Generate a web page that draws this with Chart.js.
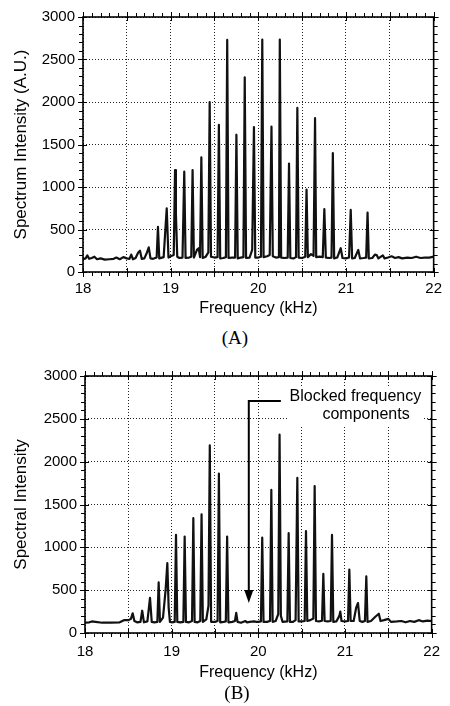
<!DOCTYPE html>
<html>
<head>
<meta charset="utf-8">
<script src="https://cdn.jsdelivr.net/npm/chart.js@4.4.0/dist/chart.umd.min.js"></script>
<style>
  body { margin: 0; background: #fff; width: 450px; height: 706px; position: relative; overflow: hidden; }
  .box { position: absolute; left: 0; width: 450px; }
  .cap { position: absolute; width: 450px; text-align: center; font-family: "Liberation Serif", "Times New Roman", serif; font-size: 19px; color: #000; line-height: 22px; }
</style>
</head>
<body>
<div class="box" style="top:0;height:320px"><canvas id="chartA" width="450" height="320"></canvas></div>
<div class="cap" style="top:327px;left:10px">(A)</div>
<div class="box" style="top:340px;height:343px"><canvas id="chartB" width="450" height="343"></canvas></div>
<div class="cap" style="top:682px;left:12px">(B)</div>
<script>
// spectrum (A): [frequency kHz, intensity A.U.]
const spectrumA = [
    [18.00, 150], [18.03, 160], [18.05, 195], [18.07, 155], [18.10, 165], [18.13, 180], [18.16, 150],
    [18.20, 160], [18.25, 145], [18.30, 150], [18.35, 155], [18.38, 170], [18.42, 150], [18.46, 175],
    [18.50, 160], [18.53, 155], [18.55, 205], [18.57, 150], [18.60, 165], [18.63, 230], [18.65, 250],
    [18.67, 155], [18.70, 160], [18.73, 230], [18.75, 290], [18.77, 160], [18.80, 155], [18.84, 170],
    [18.855, 530], [18.87, 160], [18.92, 175], [18.955, 750], [18.975, 170], [19.00, 185], [19.035, 200],
    [19.05, 1200], [19.06, 680], [19.075, 180], [19.10, 165], [19.135, 170], [19.155, 1180], [19.17, 165],
    [19.21, 170], [19.235, 180], [19.25, 1200], [19.265, 170], [19.30, 260], [19.32, 280], [19.335, 175],
    [19.35, 1350], [19.365, 165], [19.40, 180], [19.43, 230], [19.445, 2000], [19.46, 180], [19.50, 170],
    [19.535, 175], [19.55, 1730], [19.565, 160], [19.60, 165], [19.63, 175], [19.645, 2730], [19.66, 165],
    [19.70, 170], [19.735, 170], [19.75, 1615], [19.765, 160], [19.80, 170], [19.83, 175], [19.845, 2290],
    [19.86, 165], [19.90, 170], [19.93, 260], [19.95, 1705], [19.965, 170], [20.00, 170], [20.03, 180],
    [20.045, 2735], [20.06, 175], [20.10, 185], [20.13, 200], [20.15, 1710], [20.165, 185], [20.20, 170],
    [20.235, 175], [20.245, 2735], [20.26, 170], [20.30, 165], [20.335, 170], [20.35, 1275], [20.365, 165],
    [20.40, 160], [20.43, 175], [20.445, 1930], [20.46, 170], [20.50, 165], [20.535, 180], [20.55, 970],
    [20.565, 175], [20.60, 210], [20.63, 190], [20.647, 1810], [20.66, 175], [20.70, 180], [20.735, 175],
    [20.753, 740], [20.77, 170], [20.81, 165], [20.835, 170], [20.85, 1400], [20.865, 160], [20.90, 170],
    [20.94, 280], [20.96, 165], [21.00, 160], [21.035, 170], [21.054, 730], [21.07, 160], [21.10, 165],
    [21.14, 260], [21.16, 160], [21.20, 165], [21.23, 170], [21.246, 700], [21.26, 160], [21.30, 165],
    [21.33, 205], [21.35, 200], [21.37, 160], [21.42, 195], [21.44, 160], [21.48, 170], [21.52, 185],
    [21.56, 165], [21.60, 175], [21.64, 160], [21.70, 170], [21.75, 165], [21.80, 180], [21.85, 165],
    [21.90, 170], [21.95, 170], [22.00, 180]
];

// spectrum (B), with blocked components near 19.85-19.95 kHz
const spectrumB = [
    [18.00, 120], [18.05, 125], [18.08, 135], [18.12, 130], [18.20, 120], [18.30, 120], [18.40, 125],
    [18.45, 150], [18.50, 150], [18.53, 165], [18.55, 230], [18.57, 140], [18.60, 125], [18.64, 130],
    [18.66, 260], [18.68, 125], [18.72, 135], [18.75, 410], [18.77, 130], [18.80, 125], [18.835, 130],
    [18.85, 590], [18.865, 130], [18.90, 180], [18.93, 500], [18.95, 815], [18.965, 300], [18.98, 130],
    [19.00, 125], [19.035, 130], [19.05, 1145], [19.065, 130], [19.10, 125], [19.135, 130], [19.15, 1125],
    [19.165, 130], [19.20, 125], [19.235, 140], [19.25, 1340], [19.265, 130], [19.30, 125], [19.33, 140],
    [19.345, 1385], [19.36, 130], [19.40, 160], [19.425, 320], [19.44, 2190], [19.455, 130], [19.50, 130],
    [19.53, 140], [19.545, 1860], [19.56, 125], [19.60, 130], [19.625, 135], [19.64, 1125], [19.655, 125],
    [19.70, 130], [19.73, 140], [19.745, 235], [19.76, 130], [19.80, 120], [19.85, 140], [19.87, 125],
    [19.90, 130], [19.95, 135], [19.98, 130], [20.00, 130], [20.03, 135], [20.045, 1115], [20.06, 130],
    [20.10, 130], [20.135, 140], [20.15, 1670], [20.165, 130], [20.20, 140], [20.23, 220], [20.245, 2315],
    [20.26, 200], [20.28, 130], [20.335, 135], [20.35, 1165], [20.365, 130], [20.40, 130], [20.43, 150],
    [20.45, 1810], [20.465, 135], [20.50, 135], [20.535, 140], [20.55, 1190], [20.565, 140], [20.60, 150],
    [20.635, 170], [20.65, 1715], [20.665, 140], [20.70, 135], [20.735, 145], [20.75, 690], [20.765, 140],
    [20.80, 135], [20.835, 140], [20.85, 1145], [20.865, 130], [20.90, 135], [20.935, 200], [20.946, 250],
    [20.96, 140], [21.00, 135], [21.035, 140], [21.05, 740], [21.065, 140], [21.10, 140], [21.13, 300],
    [21.15, 350], [21.17, 140], [21.20, 130], [21.23, 140], [21.246, 660], [21.26, 130], [21.30, 140],
    [21.35, 190], [21.39, 225], [21.41, 140], [21.45, 150], [21.50, 165], [21.53, 130], [21.60, 135],
    [21.65, 140], [21.70, 125], [21.75, 140], [21.80, 130], [21.85, 150], [21.90, 135], [21.95, 145],
    [22.00, 140]
];

const freqRange = [18, 22];
const intensityRange = [0, 3000];

// annotation on (B)
const noteLines = ['Blocked frequency', 'components'];
const noteAnchors = [[21.12, 2755], [21.243, 2545]];
const arrowFreq = 19.89;
const arrowFrom = 2708;
const arrowTo = 350;
const elbowFreq = 20.26;

const FONT = '"Liberation Sans", Arial, Helvetica, sans-serif';

// box frame + minor/major ticks on all four sides
const framePlugin = {
    id: 'frame',
    afterDatasetsDraw(chart) {
        const {ctx, chartArea: a, scales: {x, y}} = chart;
        ctx.save();
        ctx.strokeStyle = '#000';
        ctx.lineWidth = 1.6;
        ctx.strokeRect(a.left, a.top, a.right - a.left, a.bottom - a.top);
        ctx.lineWidth = 1;
        ctx.beginPath();
        for (let i = 0; i <= 40; i++) {
            const px = Math.round(x.getPixelForValue(freqRange[0] + i / 10)) + 0.5;
            const major = i % 5 === 0;
            ctx.moveTo(px, a.bottom - (major ? 4 : 0));
            ctx.lineTo(px, a.bottom + (major ? 5 : 4));
            ctx.moveTo(px, a.top + (major ? 4 : 0));
            ctx.lineTo(px, a.top - (major ? 5 : 4));
        }
        for (let i = 0; i <= 30; i++) {
            const py = Math.round(y.getPixelForValue(i * 100)) + 0.5;
            const major = i % 5 === 0;
            ctx.moveTo(a.left + (major ? 4 : 0), py);
            ctx.lineTo(a.left - (major ? 5 : 4), py);
            ctx.moveTo(a.right - (major ? 4 : 0), py);
            ctx.lineTo(a.right + (major ? 5 : 4), py);
        }
        ctx.stroke();
        ctx.restore();
    }
};

const notePlugin = {
    id: 'blockedNote',
    afterDatasetsDraw(chart) {
        const {ctx, scales: {x, y}} = chart;
        ctx.save();
        ctx.font = '16px ' + FONT;
        const pts = noteAnchors.map(([f, v]) => [x.getPixelForValue(f), y.getPixelForValue(v)]);
        const widths = noteLines.map(t => ctx.measureText(t).width);
        const left = Math.min(...pts.map((p, i) => p[0] - widths[i] / 2)) - 1;
        const right = Math.max(...pts.map((p, i) => p[0] + widths[i] / 2)) + 1;
        const top = pts[0][1] - 11;
        const bottom = pts[pts.length - 1][1] + 11;
        ctx.fillStyle = '#fff';
        ctx.fillRect(left, top, right - left, bottom - top);
        ctx.fillStyle = '#000';
        ctx.textAlign = 'center';
        ctx.textBaseline = 'middle';
        noteLines.forEach((t, i) => ctx.fillText(t, pts[i][0], pts[i][1]));

        const ax = x.getPixelForValue(arrowFreq);
        const y0 = y.getPixelForValue(arrowFrom);
        const y1 = y.getPixelForValue(arrowTo);
        ctx.strokeStyle = '#000';
        ctx.lineWidth = 2;
        ctx.beginPath();
        ctx.moveTo(x.getPixelForValue(elbowFreq), y0);
        ctx.lineTo(ax, y0);
        ctx.lineTo(ax, y1 - 10);
        ctx.stroke();
        ctx.beginPath();
        ctx.moveTo(ax - 4.5, y1 - 13);
        ctx.lineTo(ax + 4.5, y1 - 13);
        ctx.lineTo(ax, y1);
        ctx.closePath();
        ctx.fill();
        ctx.restore();
    }
};

function makeChart(id, spectrum, yTitle, opts) {
    const ctx = document.getElementById(id).getContext('2d');
    return new Chart(ctx, {
        type: 'line',
        data: {
            datasets: [{
                data: spectrum.map(([f, v]) => ({x: f, y: v})),
                borderColor: '#111',
                borderWidth: 2.2,
                borderJoinStyle: 'round',
                pointRadius: 0,
                tension: 0,
                fill: false
            }]
        },
        options: {
            responsive: false,
            animation: false,
            layout: {padding: opts.padding},
            plugins: {
                legend: {display: false},
                tooltip: {enabled: false}
            },
            scales: {
                x: {
                    type: 'linear',
                    min: freqRange[0],
                    max: freqRange[1],
                    ticks: {
                        stepSize: 0.5,
                        autoSkip: false,
                        maxRotation: 0,
                        padding: opts.xTickPad,
                        color: '#000',
                        font: {family: FONT, size: 15},
                        callback: v => Number.isInteger(v) ? String(v) : ''
                    },
                    grid: {color: '#222', lineWidth: 1, drawTicks: false},
                    border: {display: false, dash: [1, 2]},
                    title: {
                        display: true,
                        text: 'Frequency (kHz)',
                        color: '#000',
                        font: {family: FONT, size: 16},
                        padding: {top: 0, bottom: opts.xTitlePad}
                    },
                    afterFit: s => { s.height = opts.xHeight; }
                },
                y: {
                    min: intensityRange[0],
                    max: intensityRange[1],
                    ticks: {
                        stepSize: 500,
                        padding: 8,
                        color: '#000',
                        font: {family: FONT, size: 15},
                        callback: v => String(v)
                    },
                    grid: {color: '#222', lineWidth: 1, drawTicks: false},
                    border: {display: false, dash: [1, 2]},
                    title: {
                        display: true,
                        text: yTitle,
                        color: '#000',
                        font: {family: FONT, size: 17},
                        padding: {top: opts.yTitlePad, bottom: 0}
                    },
                    afterFit: s => { s.width = 83; }
                }
            }
        },
        plugins: opts.plugins
    });
}

makeChart('chartA', spectrumA, 'Spectrum Intensity (A.U.)', {
    padding: {left: 0, right: 13, top: 15, bottom: 0},
    xHeight: 48, xTickPad: 8, xTitlePad: 2, yTitlePad: 11,
    plugins: [framePlugin]
});

makeChart('chartB', spectrumB, 'Spectral Intensity', {
    padding: {left: 2, right: 11, top: 36, bottom: 0},
    xHeight: 50, xTickPad: 10, xTitlePad: 1, yTitlePad: 9,
    plugins: [framePlugin, notePlugin]
});
</script>
</body>
</html>
